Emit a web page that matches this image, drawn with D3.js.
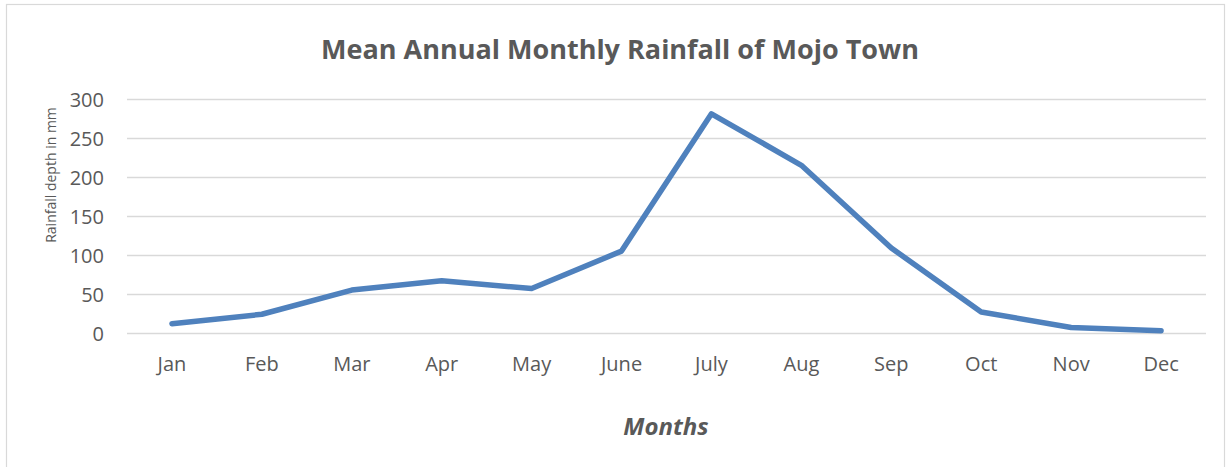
<!DOCTYPE html>
<html>
<head>
<meta charset="utf-8">
<script src="https://cdn.jsdelivr.net/npm/d3@7"></script>
<style>
  html, body { margin: 0; padding: 0; background: #fff; }
  svg { display: block; }
  text { font-family: "Open Sans", "Noto Sans", sans-serif; fill: #595959; }
</style>
</head>
<body>
<svg id="chart" width="1226" height="467"></svg>
<script>
// Mean monthly rainfall (mm) for Mojo Town
const months = ["Jan", "Feb", "Mar", "Apr", "May", "June", "July", "Aug", "Sep", "Oct", "Nov", "Dec"];
const rainfall = [12, 24, 55, 67, 57, 105, 281, 215, 109, 27, 7, 3];
const yTicks = [0, 50, 100, 150, 200, 250, 300];

const svg = d3.select("#chart");
const plot = { left: 127, right: 1206, top: 99, bottom: 333 };

// outer chart frame
svg.append("rect")
  .attr("x", 6.5).attr("y", 4.5)
  .attr("width", 1218).attr("height", 480)
  .attr("fill", "#fff")
  .attr("stroke", "#d9d9d9").attr("stroke-width", 1.2);

const x = d3.scaleBand().domain(months).range([plot.left, plot.right]).paddingInner(0).paddingOuter(0);
const y = d3.scaleLinear().domain([0, 300]).range([plot.bottom, plot.top]);

// horizontal gridlines
svg.append("g")
  .selectAll("line")
  .data(yTicks)
  .join("line")
  .attr("x1", plot.left).attr("x2", plot.right)
  .attr("y1", d => Math.round(y(d)) + 0.5).attr("y2", d => Math.round(y(d)) + 0.5)
  .attr("stroke", "#d9d9d9").attr("stroke-width", 1.5);

// y axis labels
const yAxis = d3.axisLeft(y).tickValues(yTicks).tickSize(0).tickPadding(0);
const gy = svg.append("g").attr("transform", `translate(104,0)`).call(yAxis);
gy.select(".domain").remove();
gy.selectAll("text")
  .attr("font-size", 20)
  .attr("fill", "#595959")
  .attr("font-family", "Open Sans")
  .attr("dy", "0.35em");

// x axis labels
const xAxis = d3.axisBottom(x).tickSize(0).tickPadding(0);
const gx = svg.append("g").attr("transform", `translate(0,${plot.bottom})`).call(xAxis);
gx.select(".domain").remove();
gx.selectAll("text")
  .attr("font-size", 20)
  .attr("fill", "#595959")
  .attr("font-family", "Open Sans")
  .attr("y", 38)
  .attr("dy", 0);

// rainfall line
const line = d3.line()
  .x((d, i) => x(months[i]) + x.bandwidth() / 2)
  .y(d => y(d));

svg.append("path")
  .datum(rainfall)
  .attr("d", line)
  .attr("fill", "none")
  .attr("stroke", "#4f81bd")
  .attr("stroke-width", 5.5)
  .attr("stroke-linejoin", "round")
  .attr("stroke-linecap", "round");

// title
svg.append("text")
  .attr("x", 620).attr("y", 59)
  .attr("text-anchor", "middle")
  .attr("font-size", 27)
  .attr("font-weight", "bold")
  .text("Mean Annual Monthly Rainfall of Mojo Town");

// axis titles
svg.append("text")
  .attr("transform", "translate(56,175) rotate(-90)")
  .attr("text-anchor", "middle")
  .attr("font-size", 14)
  .text("Rainfall depth in mm");

svg.append("text")
  .attr("x", 666).attr("y", 435)
  .attr("text-anchor", "middle")
  .attr("font-size", 24)
  .attr("font-weight", "bold")
  .attr("font-style", "italic")
  .text("Months");
</script>
</body>
</html>
